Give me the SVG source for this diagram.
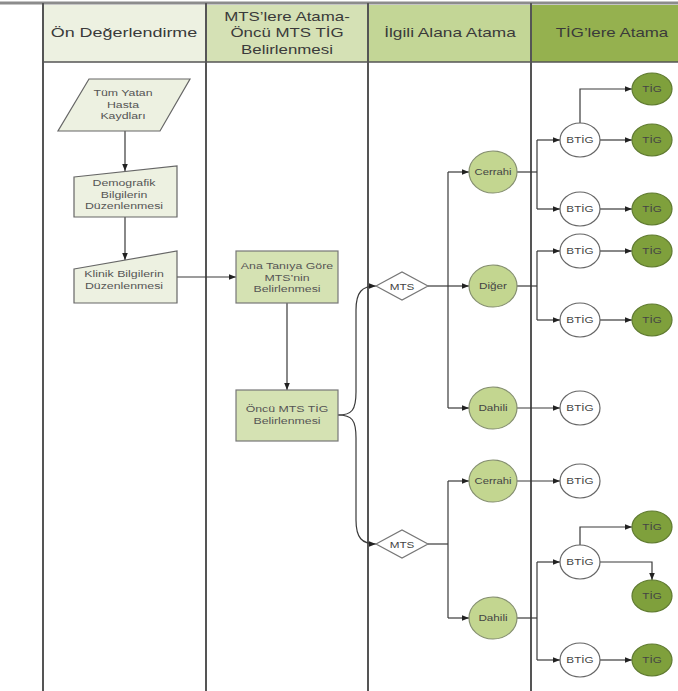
<svg xmlns="http://www.w3.org/2000/svg" width="678" height="691" viewBox="0 0 678 691">
<style>
.h{font-family:"Liberation Sans",Arial,sans-serif;font-size:13.5px;fill:#3a3a3a;text-anchor:middle}
.t{font-family:"Liberation Sans",Arial,sans-serif;font-size:9.5px;fill:#555;text-anchor:middle}
.s{font-family:"Liberation Sans",Arial,sans-serif;font-size:9px;fill:#444;text-anchor:middle}
.lane{stroke:#555;stroke-width:2;fill:none}
.c{stroke:#3a3a3a;stroke-width:1.2;fill:none}
.ca{stroke:#3a3a3a;stroke-width:1.2;fill:none;marker-end:url(#ah)}
.p1{fill:#edf1e1;stroke:#666;stroke-width:1.2}
.p2{fill:#d5e2b3;stroke:#777;stroke-width:1.2}
.e3{fill:#c3d690;stroke:#858f70;stroke-width:1.2}
.bt{fill:#fff;stroke:#666;stroke-width:1.2}
.tg{fill:#7fa03c;stroke:#5f7a30;stroke-width:1.2}
.dm{fill:#fff;stroke:#777;stroke-width:1.2}
</style>
<defs>
<marker id="ah" viewBox="0 0 10 10" refX="10" refY="5" markerWidth="7" markerHeight="7" orient="auto" markerUnits="userSpaceOnUse">
<path d="M0,1 L10,5 L0,9 z" fill="#222"/>
</marker>
</defs>
<rect x="0" y="0" width="678" height="691" fill="#fff"/>

<g id="header">
<rect x="43" y="5" width="163" height="57" fill="#edf1e1"/>
<rect x="206" y="5" width="162" height="57" fill="#d5e1b5"/>
<rect x="368" y="5" width="163" height="57" fill="#c3d696"/>
<rect x="531" y="5" width="147" height="57" fill="#95b14f"/>
<line x1="0" y1="3" x2="678" y2="3" stroke="#8c8c8c" stroke-width="3"/>
<line x1="43" y1="62" x2="678" y2="62" stroke="#555" stroke-width="1.5"/>
<text class="h" transform="translate(124,37) scale(1.33,1)">Ön Değerlendirme</text>
<text class="h" transform="translate(287,20.5) scale(1.25,1)">MTS’lere Atama-</text>
<text class="h" transform="translate(287,37) scale(1.25,1)">Öncü MTS TİG</text>
<text class="h" transform="translate(287,53.5) scale(1.25,1)">Belirlenmesi</text>
<text class="h" transform="translate(450,37) scale(1.28,1)">İlgili Alana Atama</text>
<text class="h" transform="translate(612,37) scale(1.25,1)">TİG’lere Atama</text>
</g>

<g id="lanes">
<line class="lane" x1="43" y1="3" x2="43" y2="691"/>
<line class="lane" x1="206" y1="3" x2="206" y2="691"/>
<line class="lane" x1="368" y1="3" x2="368" y2="691"/>
<line class="lane" x1="531" y1="3" x2="531" y2="691"/>
</g>

<g id="connectors">
<line class="ca" x1="125" y1="131" x2="125" y2="171"/>
<line class="ca" x1="125" y1="217" x2="125" y2="260"/>
<line class="ca" x1="177" y1="277" x2="236" y2="277"/>
<line class="ca" x1="287" y1="303" x2="287" y2="390"/>
<path class="ca" d="M338,415 C352,415 356,410 356,392 L356,310 C356,292 362,286 376,286"/>
<path class="ca" d="M338,415 C352,415 356,420 356,438 L356,520 C356,538 362,544 376,544"/>
<line class="c" x1="428" y1="286" x2="448" y2="286"/>
<line class="c" x1="448" y1="172" x2="448" y2="408"/>
<line class="ca" x1="448" y1="172" x2="469" y2="172"/>
<line class="ca" x1="448" y1="286" x2="469" y2="286"/>
<line class="ca" x1="448" y1="408" x2="469" y2="408"/>
<line class="c" x1="428" y1="544" x2="448" y2="544"/>
<line class="c" x1="448" y1="481" x2="448" y2="618"/>
<line class="ca" x1="448" y1="481" x2="469" y2="481"/>
<line class="ca" x1="448" y1="618" x2="469" y2="618"/>
<line class="c" x1="517" y1="172" x2="537" y2="172"/>
<line class="c" x1="537" y1="140" x2="537" y2="209"/>
<line class="ca" x1="537" y1="140" x2="560" y2="140"/>
<line class="ca" x1="537" y1="209" x2="560" y2="209"/>
<path class="ca" d="M580,123 L580,89 L632,89"/>
<line class="ca" x1="600" y1="140" x2="632" y2="140"/>
<line class="ca" x1="600" y1="209" x2="632" y2="209"/>
<line class="c" x1="517" y1="286" x2="537" y2="286"/>
<line class="c" x1="537" y1="251" x2="537" y2="320"/>
<line class="ca" x1="537" y1="251" x2="560" y2="251"/>
<line class="ca" x1="537" y1="320" x2="560" y2="320"/>
<line class="ca" x1="600" y1="251" x2="632" y2="251"/>
<line class="ca" x1="600" y1="320" x2="632" y2="320"/>
<line class="ca" x1="517" y1="408" x2="560" y2="408"/>
<line class="ca" x1="517" y1="481" x2="560" y2="481"/>
<line class="c" x1="517" y1="618" x2="537" y2="618"/>
<line class="c" x1="537" y1="562" x2="537" y2="660"/>
<line class="ca" x1="537" y1="562" x2="560" y2="562"/>
<line class="ca" x1="537" y1="660" x2="560" y2="660"/>
<path class="ca" d="M580,545 L580,527 L632,527"/>
<path class="ca" d="M600,562 L652,562 L652,580"/>
<line class="ca" x1="600" y1="660" x2="632" y2="660"/>
</g>

<g id="n-tum">
<polygon class="p1" points="89,79 190,79 160,131 58,131"/>
<text class="t" transform="translate(123,96) scale(1.3,1)">Tüm Yatan</text>
<text class="t" transform="translate(123,107.5) scale(1.3,1)">Hasta</text>
<text class="t" transform="translate(123,119) scale(1.3,1)">Kaydları</text>
</g>
<g id="n-demo">
<polygon class="p1" points="74,177 177,166 177,217 74,217"/>
<text class="t" transform="translate(124,186) scale(1.3,1)">Demografik</text>
<text class="t" transform="translate(124,197.5) scale(1.3,1)">Bilgilerin</text>
<text class="t" transform="translate(124,209) scale(1.3,1)">Düzenlenmesi</text>
</g>
<g id="n-klinik">
<polygon class="p1" points="74,269 177,251 177,303 74,303"/>
<text class="t" transform="translate(124,277) scale(1.3,1)">Klinik Bilgilerin</text>
<text class="t" transform="translate(124,288.5) scale(1.3,1)">Düzenlenmesi</text>
</g>
<g id="n-ana">
<rect class="p2" x="236" y="251" width="102" height="52"/>
<text class="t" transform="translate(287,269) scale(1.3,1)">Ana Tanıya Göre</text>
<text class="t" transform="translate(287,280.5) scale(1.3,1)">MTS’nin</text>
<text class="t" transform="translate(287,292) scale(1.3,1)">Belirlenmesi</text>
</g>
<g id="n-oncu">
<rect class="p2" x="236" y="390" width="102" height="51"/>
<text class="t" transform="translate(287,412) scale(1.3,1)">Öncü MTS TİG</text>
<text class="t" transform="translate(287,423.5) scale(1.3,1)">Belirlenmesi</text>
</g>

<g id="n-mts1">
<polygon class="dm" points="376,286 402,272 428,286 402,300"/>
<text class="s" transform="translate(402,289.5) scale(1.3,1)">MTS</text>
</g>
<g id="n-mts2">
<polygon class="dm" points="376,544 402,530 428,544 402,558"/>
<text class="s" transform="translate(402,547.5) scale(1.3,1)">MTS</text>
</g>

<g id="n-cerrahi1"><ellipse class="e3" cx="493" cy="172" rx="24" ry="21"/><text class="s" transform="translate(493,175) scale(1.25,1)">Cerrahi</text></g>
<g id="n-diger"><ellipse class="e3" cx="493" cy="286" rx="24" ry="21"/><text class="s" transform="translate(493,289) scale(1.3,1)">Diğer</text></g>
<g id="n-dahili1"><ellipse class="e3" cx="493" cy="408" rx="24" ry="21"/><text class="s" transform="translate(493,411) scale(1.3,1)">Dahili</text></g>
<g id="n-cerrahi2"><ellipse class="e3" cx="493" cy="481" rx="24" ry="21"/><text class="s" transform="translate(493,484) scale(1.25,1)">Cerrahi</text></g>
<g id="n-dahili2"><ellipse class="e3" cx="493" cy="618" rx="24" ry="21"/><text class="s" transform="translate(493,621) scale(1.3,1)">Dahili</text></g>

<g id="n-btig1"><ellipse class="bt" cx="580" cy="140" rx="20" ry="17"/><text class="s" transform="translate(580,143) scale(1.3,1)">BTİG</text></g>
<g id="n-btig2"><ellipse class="bt" cx="580" cy="209" rx="20" ry="17"/><text class="s" transform="translate(580,212) scale(1.3,1)">BTİG</text></g>
<g id="n-btig3"><ellipse class="bt" cx="580" cy="251" rx="20" ry="17"/><text class="s" transform="translate(580,254) scale(1.3,1)">BTİG</text></g>
<g id="n-btig4"><ellipse class="bt" cx="580" cy="320" rx="20" ry="17"/><text class="s" transform="translate(580,323) scale(1.3,1)">BTİG</text></g>
<g id="n-btig5"><ellipse class="bt" cx="580" cy="408" rx="20" ry="17"/><text class="s" transform="translate(580,411) scale(1.3,1)">BTİG</text></g>
<g id="n-btig6"><ellipse class="bt" cx="580" cy="481" rx="20" ry="17"/><text class="s" transform="translate(580,484) scale(1.3,1)">BTİG</text></g>
<g id="n-btig7"><ellipse class="bt" cx="580" cy="562" rx="20" ry="17"/><text class="s" transform="translate(580,565) scale(1.3,1)">BTİG</text></g>
<g id="n-btig8"><ellipse class="bt" cx="580" cy="660" rx="20" ry="17"/><text class="s" transform="translate(580,663) scale(1.3,1)">BTİG</text></g>

<g id="n-tig1"><ellipse class="tg" cx="652" cy="89" rx="20" ry="16"/><text class="s" transform="translate(652,92) scale(1.3,1)">TİG</text></g>
<g id="n-tig2"><ellipse class="tg" cx="652" cy="140" rx="20" ry="16"/><text class="s" transform="translate(652,143) scale(1.3,1)">TİG</text></g>
<g id="n-tig3"><ellipse class="tg" cx="652" cy="209" rx="20" ry="16"/><text class="s" transform="translate(652,212) scale(1.3,1)">TİG</text></g>
<g id="n-tig4"><ellipse class="tg" cx="652" cy="251" rx="20" ry="16"/><text class="s" transform="translate(652,254) scale(1.3,1)">TİG</text></g>
<g id="n-tig5"><ellipse class="tg" cx="652" cy="320" rx="20" ry="16"/><text class="s" transform="translate(652,323) scale(1.3,1)">TİG</text></g>
<g id="n-tig6"><ellipse class="tg" cx="652" cy="527" rx="20" ry="16"/><text class="s" transform="translate(652,530) scale(1.3,1)">TİG</text></g>
<g id="n-tig7"><ellipse class="tg" cx="652" cy="596" rx="20" ry="16"/><text class="s" transform="translate(652,599) scale(1.3,1)">TİG</text></g>
<g id="n-tig8"><ellipse class="tg" cx="652" cy="660" rx="20" ry="16"/><text class="s" transform="translate(652,663) scale(1.3,1)">TİG</text></g>
</svg>
